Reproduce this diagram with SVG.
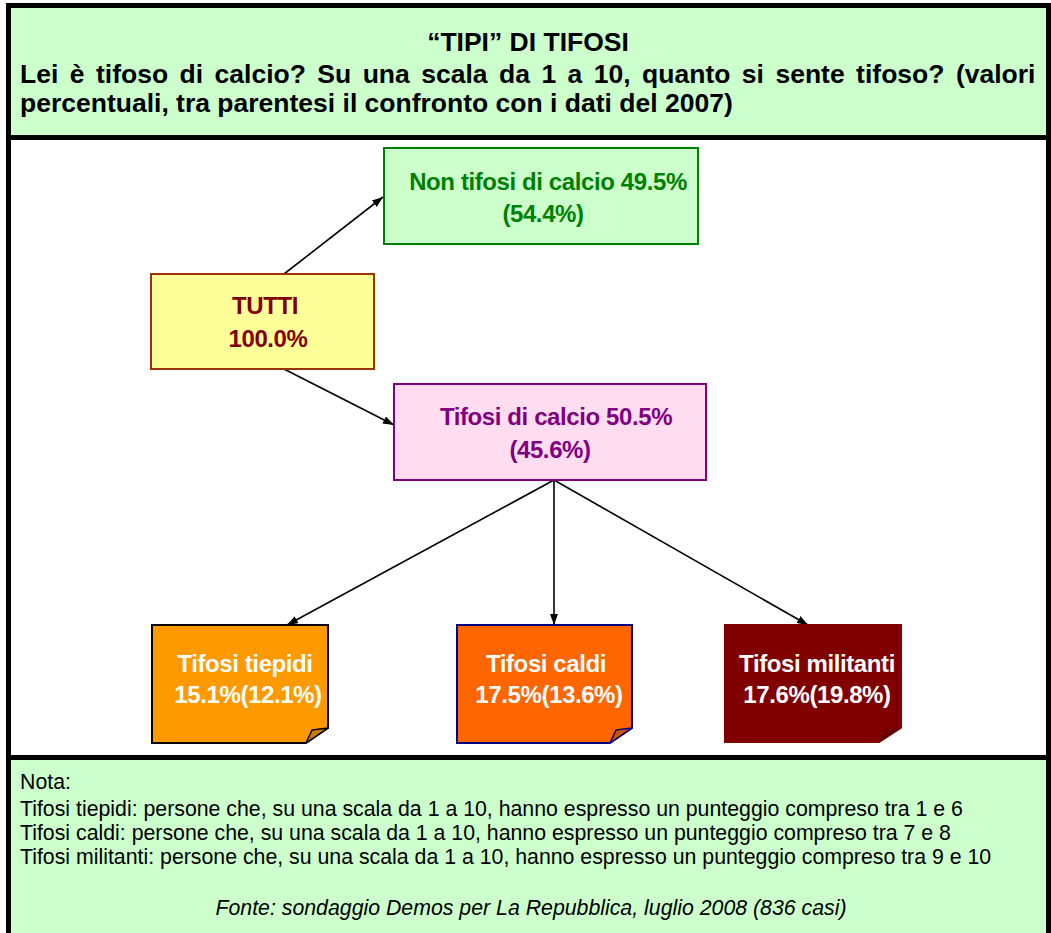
<svg xmlns="http://www.w3.org/2000/svg" width="1051" height="933" viewBox="0 0 1051 933">
<style>
.frame{stroke:#000;stroke-width:5}
.hdr{font-family:"Liberation Sans",Arial,sans-serif;font-weight:bold;font-size:26.5px;fill:#000}
.nt{font-family:"Liberation Sans",Arial,sans-serif;font-weight:bold;font-size:24px;letter-spacing:-0.4px;text-anchor:middle}
.ft{font-family:"Liberation Sans",Arial,sans-serif;font-size:21.3px;fill:#000}
.conn line{stroke:#000;stroke-width:1.6;marker-end:url(#ah)}
</style>
<defs>
<marker id="ah" markerUnits="userSpaceOnUse" markerWidth="12" markerHeight="10" refX="11" refY="4" orient="auto">
<path d="M0,0 L11,4 L0,8 Z" fill="#000"/>
</marker>
</defs>
<rect class="frame" x="8.5" y="5.5" width="1040" height="132" fill="#CCFFCC"/>
<rect class="frame" x="8.5" y="137.5" width="1040" height="620" fill="#FFFFFF"/>
<rect class="frame" x="8.5" y="757.5" width="1040" height="185" fill="#CCFFCC"/>
<g id="header">
<text class="hdr" x="528" y="51" text-anchor="middle">“TIPI” DI TIFOSI</text>
<text class="hdr" x="20" y="83" word-spacing="4.1">Lei è tifoso di calcio? Su una scala da 1 a 10, quanto si sente tifoso? (valori</text>
<text class="hdr" x="20" y="112">percentuali, tra parentesi il confronto con i dati del 2007)</text>
</g>
<g class="conn" id="connectors">
<line x1="284" y1="274" x2="383" y2="197"/>
<line x1="284" y1="369" x2="394" y2="425"/>
<line x1="554" y1="480" x2="287" y2="625"/>
<line x1="554" y1="480" x2="554" y2="625"/>
<line x1="554" y1="480" x2="808" y2="625"/>
</g>
<g id="non-tifosi">
<rect x="384" y="148" width="314" height="96" fill="#CCFFCC" stroke="#008000" stroke-width="2"/>
<text class="nt" x="548" y="190" fill="#008000">Non tifosi di calcio 49.5%</text>
<text class="nt" x="543" y="222" fill="#008000">(54.4%)</text>
</g>
<g id="tutti">
<rect x="151" y="274" width="223" height="95" fill="#FFFF99" stroke="#993300" stroke-width="2"/>
<text class="nt" x="265" y="314" fill="#800000">TUTTI</text>
<text class="nt" x="268" y="347" fill="#800000">100.0%</text>
</g>
<g id="tifosi-calcio">
<rect x="394" y="384" width="312" height="96" fill="#FFDDF0" stroke="#800080" stroke-width="2"/>
<text class="nt" x="556" y="425" fill="#800080">Tifosi di calcio 50.5%</text>
<text class="nt" x="550" y="458" fill="#800080">(45.6%)</text>
</g>
<g id="tiepidi">
<path d="M152,625 H328 V728 L306,743 H152 Z" fill="#FF9900" stroke="#000" stroke-width="2"/>
<path d="M306,743 L312,730 L328,728 Z" fill="#CC7A00" stroke="#000" stroke-width="1.5" stroke-linejoin="round"/>
<text class="nt" x="245" y="672" fill="#FFFFFF">Tifosi tiepidi</text>
<text class="nt" x="248" y="703" fill="#FFFFFF">15.1%(12.1%)</text>
</g>
<g id="caldi">
<path d="M457,625 H632 V728 L610,743 H457 Z" fill="#FF6600" stroke="#000080" stroke-width="2"/>
<path d="M610,743 L616,730 L632,728 Z" fill="#CC5200" stroke="#000080" stroke-width="1.5" stroke-linejoin="round"/>
<text class="nt" x="546" y="672" fill="#FFFFFF">Tifosi caldi</text>
<text class="nt" x="549" y="703" fill="#FFFFFF">17.5%(13.6%)</text>
</g>
<g id="militanti">
<path d="M724,624 H902 V728 L879,743 H724 Z" fill="#800000"/>
<path d="M879,743 L885,730 L902,728 Z" fill="#660000"/>
<text class="nt" x="817" y="672" fill="#FFFFFF">Tifosi militanti</text>
<text class="nt" x="817" y="703" fill="#FFFFFF">17.6%(19.8%)</text>
</g>
<g id="nota">
<text class="ft" x="20" y="789">Nota:</text>
<text class="ft" x="20" y="816">Tifosi tiepidi: persone che, su una scala da 1 a 10, hanno espresso un punteggio compreso tra 1 e 6</text>
<text class="ft" x="20" y="840">Tifosi caldi: persone che, su una scala da 1 a 10, hanno espresso un punteggio compreso tra 7 e 8</text>
<text class="ft" x="20" y="864">Tifosi militanti: persone che, su una scala da 1 a 10, hanno espresso un punteggio compreso tra 9 e 10</text>
<text class="ft" x="531" y="915" text-anchor="middle" font-style="italic">Fonte: sondaggio Demos per La Repubblica, luglio 2008 (836 casi)</text>
</g>
</svg>
